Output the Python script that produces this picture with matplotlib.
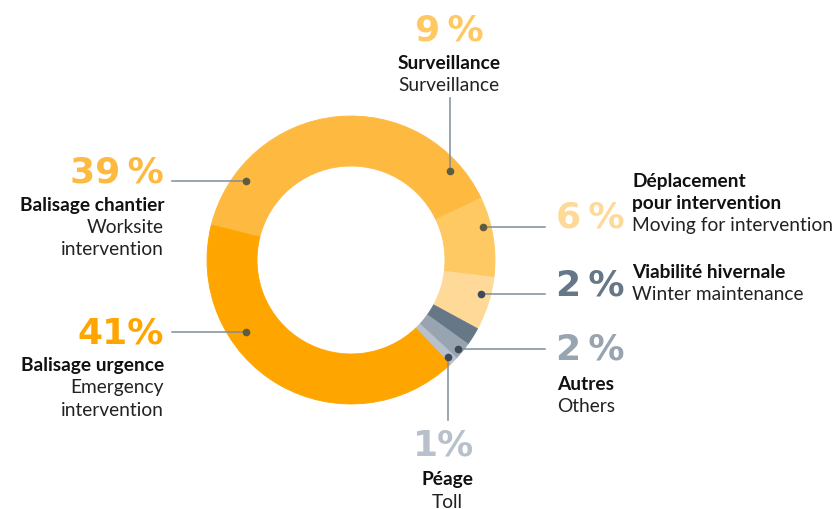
import numpy as np
import matplotlib
matplotlib.use("Agg")
import matplotlib.pyplot as plt

# data (slice order, clockwise from the left)
categories_fr = ["Balisage chantier", "Surveillance", "Déplacement\npour intervention",
                 "Viabilité hivernale", "Autres", "Péage", "Balisage urgence"]
categories_en = ["Worksite\nintervention", "Surveillance", "Moving for intervention",
                 "Winter maintenance", "Others", "Toll", "Emergency\nintervention"]
values = [39, 9, 6, 2, 2, 1, 41]
pct_labels = ["39\u2009%", "9\u2009%", "6\u2009%", "2\u2009%", "2\u2009%", "1%", "41%"]
colors = ["#FDB940", "#FEC862", "#FED998", "#667788", "#98A4B0", "#B8C1CB", "#FEA500"]

W, H = 838, 509
CX, CY = 351, 260          # donut centre in pixels (y down)
R_OUT, RING = 144, 50

# label layout: anchor angle (deg), anchor radius, line end, text placement
anchor_ang = [143, 42, 14, -14.7, -39.8, -45, -145.6]
anchor_r = [131, 133, 136, 134, 139, 137, 127]
# kind of leader: 'left', 'right', 'up', 'down'
leader = ["left", "up", "right", "right", "right", "down", "left"]
line_end = [172, 98, 545, 545, 545, 420, 172]
# percent text position (x, y) and alignment
pct_pos = [(164, 172), (449, 30), (556, 217), (556, 285), (556, 350), (444, 446), (164, 334)]
pct_ha = ["right", "center", "left", "left", "left", "center", "right"]
# label block position (x, y of first line) and alignment
lab_pos = [(164, 205), (449, 63), (632, 181), (632, 272), (557, 385), (447, 480), (164, 366)]
lab_ha = ["right", "center", "left", "left", "left", "center", "right"]

LINE_H = 22
FONT = "Lato"
PCT_FONT = "DejaVu Sans"


def Y(y):
    return H - y


fig = plt.figure(figsize=(W / 100, H / 100), dpi=100)
ax = fig.add_axes([0, 0, 1, 1])

wedges, _ = ax.pie(values, colors=colors, startangle=165.9, counterclock=False,
                   radius=R_OUT, center=(CX, Y(CY)),
                   wedgeprops=dict(width=RING, linewidth=0.6))
for w in wedges:
    w.set_edgecolor(w.get_facecolor())

ax.set_xlim(0, W)
ax.set_ylim(0, H)
ax.set_aspect("equal")
ax.axis("off")

line_col = "#7F8D9B"
for i in range(len(values)):
    a = np.radians(anchor_ang[i])
    px = CX + anchor_r[i] * np.cos(a)
    py = CY - anchor_r[i] * np.sin(a)
    if leader[i] in ("left", "right"):
        ax.plot([px, line_end[i]], [Y(py), Y(py)], color=line_col, lw=1.1, zorder=4)
    else:
        ax.plot([px, px], [Y(py), Y(line_end[i])], color=line_col, lw=1.1, zorder=4)
    dot_col = "#3E4A5A" if i in (3, 4, 5) else "#5E5B40"
    ax.plot(px, Y(py), "o", ms=4.5, color=dot_col, zorder=5)

    x, y = pct_pos[i]
    ax.text(x, Y(y), pct_labels[i], ha=pct_ha[i], va="center", fontsize=26,
            fontweight="bold", family=PCT_FONT, color=colors[i])

    x, y = lab_pos[i]
    fr_lines = categories_fr[i].split("\n")
    en_lines = categories_en[i].split("\n")
    k = 0
    for t in fr_lines:
        ax.text(x, Y(y + k * LINE_H), t, ha=lab_ha[i], va="center", fontsize=13.8,
                fontweight="bold", family=FONT, color="#111111")
        k += 1
    for t in en_lines:
        ax.text(x, Y(y + k * LINE_H), t, ha=lab_ha[i], va="center", fontsize=13.8,
                family=FONT, color="#222222")
        k += 1

fig.savefig("out.png", dpi=100)
